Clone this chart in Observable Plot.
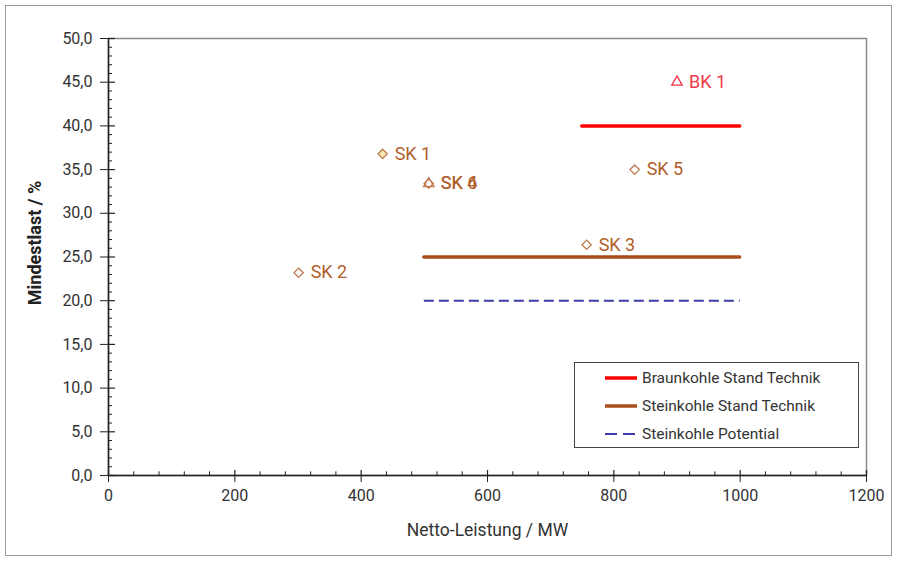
<!DOCTYPE html>
<html>
<head>
<meta charset="utf-8">
<script src="https://cdn.jsdelivr.net/npm/d3@7"></script>
<script src="https://cdn.jsdelivr.net/npm/@observablehq/plot@0.6"></script>
<style>
  html, body { margin: 0; padding: 0; background: white; }
  #wrap { position: relative; width: 898px; height: 561px; font-family: Roboto, "DejaVu Sans", sans-serif; }
  #border { position: absolute; left: 5px; top: 5px; width: 887px; height: 551px; border: 1px solid #9a9a9a; box-sizing: border-box; pointer-events: none; }
  #legend { position: absolute; left: 574px; top: 362px; width: 285px; height: 86px; border: 1px solid #444; background: white; box-sizing: border-box; }
  .row { position: absolute; left: 28px; height: 22px; display: flex; align-items: center; font-size: 15.5px; color: #333; white-space: nowrap; }
  .row svg { margin-right: 3px; }
</style>
</head>
<body>
<div id="wrap">
  <div id="chart"></div>
  <div id="legend"></div>
  <div id="border"></div>
</div>
<script>
// ---- data ----
const plantNames    = ["BK 1", "SK 1", "SK 2", "SK 3", "SK 4", "SK 5", "SK 6"];
const plantPower    = [900, 434, 301, 757, 507, 833, 507];      // MW
const plantMinLoad  = [45.0, 36.8, 23.2, 26.4, 33.4, 35.0, 33.4]; // %
const plantMarker   = ["triangle", "diamond", "diamond", "diamond", "diamond", "diamond", "triangle"];
const plantFuel     = ["Braunkohle", "Steinkohle", "Steinkohle", "Steinkohle", "Steinkohle", "Steinkohle", "Steinkohle"];

const lineNames  = ["Braunkohle Stand Technik", "Steinkohle Stand Technik", "Steinkohle Potential"];
const lineFrom   = [750, 500, 500];
const lineTo     = [1000, 1000, 1000];
const lineLevel  = [40, 25, 20];

const xTicks = [0, 200, 400, 600, 800, 1000, 1200];
const yTicks = [0, 5, 10, 15, 20, 25, 30, 35, 40, 45, 50];

// ---- styles ----
const lineStyle = {
  "Braunkohle Stand Technik": {stroke: "#ff0000", width: 3.5, dash: null},
  "Steinkohle Stand Technik": {stroke: "#a84e1c", width: 3.5, dash: null},
  "Steinkohle Potential":     {stroke: "#3c3caa", width: 2, dash: "10,5"}
};
const markerColor = {Braunkohle: "#f0304a", Steinkohle: "#c07a50"};
const labelColor  = {Braunkohle: "#f03a4c", Steinkohle: "#b0602c"};

const plants = plantNames.map((n, i) => ({name: n, x: plantPower[i], y: plantMinLoad[i], marker: plantMarker[i], fuel: plantFuel[i]}));
const lines = lineNames.map((n, i) => ({name: n, x1: lineFrom[i], x2: lineTo[i], y: lineLevel[i]}));

const xMinor = d3.range(0, 1201, 40).filter(v => !xTicks.includes(v));
const yMinor = d3.range(0, 50.01, 1).filter(v => !yTicks.includes(v));

const fmtY = d => d.toFixed(1).replace(".", ",");
const fmtX = d => String(d);

const chart = Plot.plot({
  width: 898,
  height: 561,
  marginLeft: 108,
  marginRight: 32,
  marginTop: 38,
  marginBottom: 86,
  x: {domain: [0, 1200]},
  y: {domain: [0, 50]},
  style: {fontFamily: "Roboto, 'DejaVu Sans', sans-serif", fontSize: "16px", color: "#333", background: "white", overflow: "visible"},
  marks: [
    Plot.frame({stroke: "#8a8a8a", strokeWidth: 1.5}),
    // lines
    ...lines.map(l => Plot.ruleY([l], {
      y: "y", x1: "x1", x2: "x2",
      stroke: lineStyle[l.name].stroke,
      strokeWidth: lineStyle[l.name].width,
      strokeDasharray: lineStyle[l.name].dash,
      strokeLinecap: lineStyle[l.name].dash ? "butt" : "round"
    })),
    // axes
    Plot.axisX({ticks: xTicks, tickSize: 7, tickPadding: 7, tickFormat: fmtX, label: null, fontSize: 16, stroke: "#222"}),
    Plot.axisY({ticks: yTicks, tickSize: 8, tickPadding: 8, tickFormat: fmtY, label: null, fontSize: 16, stroke: "#222"}),
    Plot.ruleX(xTicks, {x: d => d, y1: 0, y2: 0.57, stroke: "#222", strokeWidth: 1.2}),
    Plot.ruleX(xMinor, {x: d => d, y1: 0, y2: 0.42, stroke: "#222", strokeWidth: 1}),
    Plot.ruleY(yTicks, {y: d => d, x1: 0, x2: 11, stroke: "#222", strokeWidth: 1.2}),
    Plot.ruleY(yMinor, {y: d => d, x1: 0, x2: 6.5, stroke: "#222", strokeWidth: 1}),
    Plot.ruleX([0], {stroke: "#222", strokeWidth: 1.5}),
    Plot.ruleY([0], {stroke: "#222", strokeWidth: 1.5}),
    // axis titles
    Plot.text(["Netto-Leistung / MW"], {frameAnchor: "bottom", dy: 60, textAnchor: "middle", fontSize: 17.5, fill: "#333"}),
    Plot.text(["Mindestlast / %"], {frameAnchor: "left", textAnchor: "middle", dx: -73, dy: -14, rotate: -90, fontSize: 18, fontWeight: "bold", fill: "#222"}),
    // points
    Plot.dot(plants.filter(p => p.marker === "diamond"), {
      x: "x", y: "y", symbol: "diamond2", r: 4.2, stroke: d => markerColor[d.fuel], strokeWidth: 1.3,
      fill: d => d.name === "SK 1" ? "#f6e6b0" : "white"
    }),
    Plot.dot(plants.filter(p => p.marker === "triangle"), {
      x: "x", y: "y", symbol: "triangle2", r: 5, stroke: d => markerColor[d.fuel], strokeWidth: 1.3, fill: "none"
    }),
    Plot.text(plants, {
      x: "x", y: "y", text: "name", dx: 12, textAnchor: "start", fontSize: 18,
      fill: d => labelColor[d.fuel]
    })
  ]
});
document.getElementById("chart").appendChild(chart);

// legend
const legend = d3.select("#legend");
lineNames.forEach((n, i) => {
  const s = lineStyle[n];
  const row = legend.append("div").attr("class", "row").style("top", (4 + i * 28) + "px");
  const svg = row.append("svg").attr("width", 36).attr("height", 10);
  svg.append("line").attr("x1", 2).attr("x2", 34).attr("y1", 5).attr("y2", 5)
    .attr("stroke", s.stroke).attr("stroke-width", s.width)
    .attr("stroke-dasharray", s.dash ? "12,6" : null);
  row.append("span").text(n);
});
</script>
</body>
</html>
